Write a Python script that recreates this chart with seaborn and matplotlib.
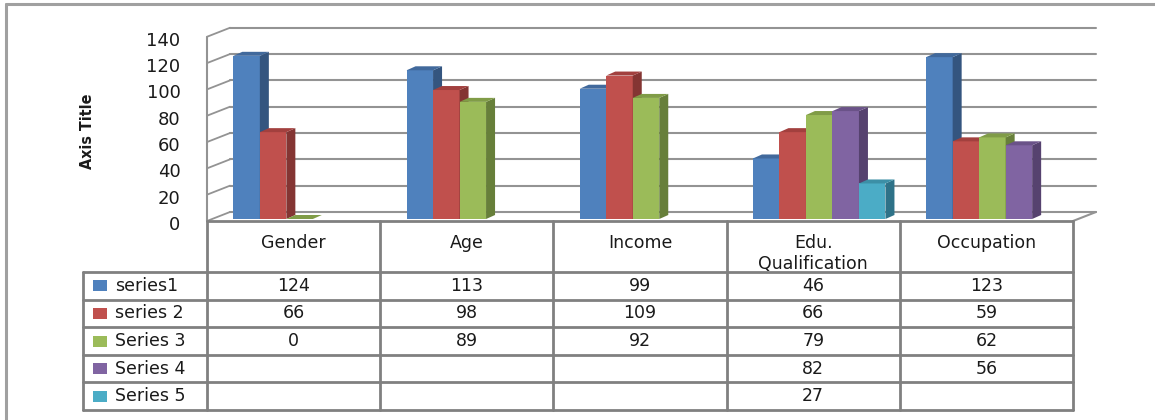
import matplotlib
matplotlib.use("Agg")
import matplotlib.pyplot as plt
from matplotlib.patches import Polygon, Rectangle
from matplotlib.transforms import ScaledTranslation
import seaborn as sns
import pandas as pd

# ---------------- data ----------------
categories = ["Gender", "Age", "Income", "Edu.\nQualification", "Occupation"]
series_names = ["series1", "series 2", "Series 3", "Series 4", "Series 5"]
series1 = [124, 113, 99, 46, 123]
series2 = [66, 98, 109, 66, 59]
series3 = [0, 89, 92, 79, 62]
series4 = [None, None, None, 82, 56]
series5 = [None, None, None, 27, None]
y_ticks = [0, 20, 40, 60, 80, 100, 120, 140]
axis_title = "Axis Title"

front_colors = ["#4F81BD", "#C0504D", "#9BBB59", "#8064A2", "#4BACC6"]
top_colors = ["#41699C", "#A2403E", "#809C47", "#6A5288", "#3C8FA6"]
side_colors = ["#34557F", "#843533", "#677F3A", "#56426F", "#2E7288"]

all_series = [series1, series2, series3, series4, series5]
rows = []
for name, vals in zip(series_names, all_series):
    for cat, v in zip(categories, vals):
        if v is not None:
            rows.append({"category": cat, "series": name, "value": v})
df = pd.DataFrame(rows)

# ---------------- figure ----------------
sns.set_style("white")
plt.rcParams["font.family"] = ["DejaVu Sans"]
W, H = 1155, 420
fig = plt.figure(figsize=(W / 100, H / 100), dpi=100)

# pixel geometry
x_left, x_right = 207, 1073
y_floor, px_per_unit = 221, 1.316
cat_px = (x_right - x_left) / len(categories)
ax = fig.add_axes([x_left / W, 1 - y_floor / H, (x_right - x_left) / W,
                   140 * px_per_unit / H])

sns.barplot(data=df, x="category", y="value", hue="series", order=categories,
            hue_order=series_names, palette=front_colors, width=0.765,
            dodge=True, saturation=1, legend=False, errorbar=None,
            linewidth=0, edgecolor="none", ax=ax)
ax.set_xlim(-0.5, len(categories) - 0.5)
ax.set_ylim(0, 140)

# 3D offsets (in data units)
bx, by = 23 / cat_px, 9 / px_per_unit      # back wall offset
ddx, ddy = 9 / cat_px, 4 / px_per_unit     # bar depth
grid_c = "#939393"

for v in y_ticks:
    ax.plot([-0.5 + bx, len(categories) - 0.5 + bx], [v + by, v + by],
            color=grid_c, lw=1.5, zorder=1, clip_on=False)
    ax.plot([-0.5, -0.5 + bx], [v, v + by], color=grid_c, lw=1.3,
            zorder=1, clip_on=False)
ax.plot([-0.5, -0.5], [0, 140], color=grid_c, lw=1.5, zorder=1, clip_on=False)
ax.plot([len(categories) - 0.5, len(categories) - 0.5 + bx], [0, by],
        color=grid_c, lw=1.5, zorder=1, clip_on=False)

# bars with depth
bar_shift = ax.transData + ScaledTranslation(0.06, 0.02, fig.dpi_scale_trans)
bars = sorted([p for p in ax.patches if isinstance(p, Rectangle)],
              key=lambda p: p.get_x())
for k, p in enumerate(bars):
    x, w, h = p.get_x(), p.get_width(), p.get_height()
    col = p.get_facecolor()
    idx = min(range(5), key=lambda i: sum(abs(a - b) for a, b in zip(
        matplotlib.colors.to_rgb(front_colors[i]), col[:3])))
    z = 3 + k * 0.1
    p.set_transform(bar_shift)
    p.set_zorder(z)
    p.set_clip_on(False)
    side = Polygon([(x + w, 0), (x + w, h), (x + w + ddx, h + ddy), (x + w + ddx, ddy)],
                   closed=True, facecolor=side_colors[idx], edgecolor="none",
                   transform=bar_shift, zorder=z + 0.05, clip_on=False)
    top = Polygon([(x, h), (x + w, h), (x + w + ddx, h + ddy), (x + ddx, h + ddy)],
                  closed=True, facecolor=top_colors[idx], edgecolor="none",
                  transform=bar_shift, zorder=z + 0.05, clip_on=False)
    ax.add_patch(side)
    ax.add_patch(top)

for s in ax.spines.values():
    s.set_visible(False)
ax.set_xticks([])
ax.set_xlabel("")
ax.set_ylabel("")
ax.set_yticks(y_ticks)
ax.set_yticklabels([str(t) for t in y_ticks])
ax.tick_params(axis="y", length=0, pad=19, labelsize=13, labelcolor="#1a1a1a")
for lbl in ax.get_yticklabels():
    lbl.set_transform(lbl.get_transform() + ScaledTranslation(0, -0.02, fig.dpi_scale_trans))
ax.patch.set_alpha(0)

fig.text(87 / W, 1 - 131 / H, axis_title, rotation=90, ha="center", va="center",
         fontsize=11.5, fontweight="bold", fontstretch="condensed", color="#1a1a1a")

# ---------------- data table ----------------
tab = fig.add_axes([0, 0, 1, 1])
tab.set_xlim(0, W)
tab.set_ylim(H, 0)
tab.axis("off")
tab.patch.set_alpha(0)
line_c = "#808080"
legend_left = 83
row_edges = [221, 272, 299.6, 327.2, 354.8, 382.4, 410]
col_edges = [x_left + i * cat_px for i in range(len(categories) + 1)]

tab.plot([x_left, x_right], [row_edges[0], row_edges[0]], color=line_c, lw=2)
for y in row_edges[1:]:
    tab.plot([legend_left, x_right], [y, y], color=line_c, lw=2)
tab.plot([legend_left, legend_left], [row_edges[1], row_edges[-1]], color=line_c, lw=2)
for x in col_edges:
    tab.plot([x, x], [row_edges[0], row_edges[-1]], color=line_c, lw=2)

txt_c = "#1a1a1a"
for i, cat in enumerate(categories):
    cx = (col_edges[i] + col_edges[i + 1]) / 2
    tab.text(cx, 234, cat, ha="center", va="top", fontsize=12.5, color=txt_c,
             multialignment="center", linespacing=1.2)

for r, (name, vals) in enumerate(zip(series_names, all_series)):
    y0, y1 = row_edges[r + 1], row_edges[r + 2]
    cy = (y0 + y1) / 2
    tab.add_patch(Rectangle((93, cy - 5.5), 14, 11, facecolor=front_colors[r],
                            edgecolor="none"))
    tab.text(115, cy, name, ha="left", va="center", fontsize=12.5, color=txt_c)
    for i, v in enumerate(vals):
        if v is not None:
            cx = (col_edges[i] + col_edges[i + 1]) / 2
            tab.text(cx, cy, str(v), ha="center", va="center", fontsize=12.5,
                     color=txt_c)

# outer frame
tab.plot([6, W], [4, 4], color="#A0A0A0", lw=2.2)
tab.plot([6, 6], [4, H], color="#A0A0A0", lw=2.2)

fig.savefig("out.png", dpi=100)
